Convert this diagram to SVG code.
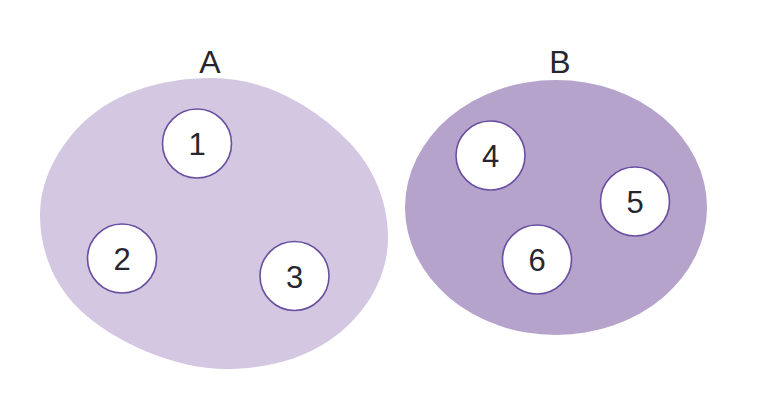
<svg xmlns="http://www.w3.org/2000/svg" width="770" height="420" viewBox="0 0 770 420">
<style>
.lbl{font-family:"Liberation Sans",Arial,sans-serif;fill:#27262e;text-anchor:middle}
.set{font-size:32px}
.num{font-size:31px}
.node circle{fill:#ffffff;stroke:#6a4fa0;stroke-width:1.6}
</style>
<rect width="770" height="420" fill="#ffffff"/>
<g id="setA">
<path fill="#d3c7e2" d="M212,78 C263,78 311,104 347,140 C373,166 388,201 388,238 C388,279 363.8,316.8 330,340 C299.5,360.9 262,369 225,369 C177,369 114.8,343.1 80,310 C54,285.2 40,251 40,215 C40,183.6 54.3,154.6 75,131 C108.7,92.7 161,78 212,78 Z"/>
<text class="lbl set" x="210" y="73">A</text>
</g>
<g id="setB">
<ellipse cx="556" cy="207.5" rx="151" ry="127.5" fill="#b5a3cc"/>
<text class="lbl set" x="560" y="73">B</text>
</g>
<g id="connectors"></g>
<g id="n1" class="node"><circle cx="197" cy="143.5" r="34.5"/><text class="lbl num" x="197" y="155">1</text></g>
<g id="n2" class="node"><circle cx="122" cy="258.5" r="34.5"/><text class="lbl num" x="122" y="270">2</text></g>
<g id="n3" class="node"><circle cx="294.5" cy="276" r="34.5"/><text class="lbl num" x="294.5" y="287.5">3</text></g>
<g id="n4" class="node"><circle cx="490.5" cy="155.5" r="34.5"/><text class="lbl num" x="490.5" y="167">4</text></g>
<g id="n5" class="node"><circle cx="635" cy="201.5" r="34.5"/><text class="lbl num" x="635" y="213">5</text></g>
<g id="n6" class="node"><circle cx="537" cy="259.5" r="34.5"/><text class="lbl num" x="537" y="271">6</text></g>
</svg>
